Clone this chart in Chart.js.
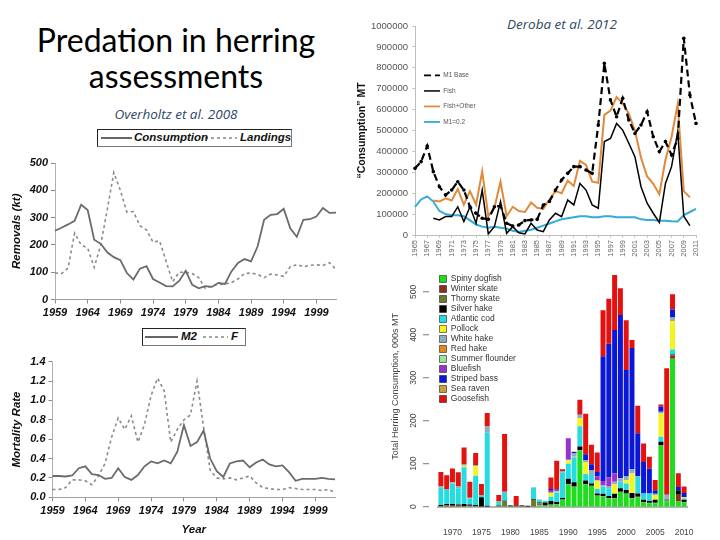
<!DOCTYPE html>
<html><head><meta charset="utf-8">
<script src="https://cdn.jsdelivr.net/npm/chart.js@4/dist/chart.umd.min.js"></script>
<style>
html,body{margin:0;padding:0;background:#fff}
body{width:720px;height:540px;position:relative;overflow:hidden;font-family:"Liberation Sans",Arial,sans-serif}
canvas{position:absolute}
.t{position:absolute;white-space:nowrap}
.lg{position:absolute;border:1px solid #777;border-top-color:#222;border-left-color:#222;box-sizing:border-box;font:italic bold 11.5px "Liberation Sans",Arial,sans-serif;color:#111}
.lg span{position:absolute;top:1px}
</style></head><body>
<div class="t" style="left:0;width:352px;top:22px;text-align:center;font-family:Lato;font-size:32px;line-height:36px;color:#000">Predation in herring<br>assessments</div>
<div class="t" style="left:0;width:352px;top:105px;text-align:center;font-family:'Open Sans';font-style:italic;font-size:13.5px;color:#2e4766">Overholtz et al. 2008</div>
<div class="t" style="left:462px;width:200px;top:15px;text-align:center;font-family:'Open Sans';font-style:italic;font-size:13.5px;color:#2e4766">Deroba et al. 2012</div>

<div class="lg" style="left:97px;top:129px;width:195px;height:18px">
<svg width="195" height="18" style="position:absolute;left:0;top:0"><line x1="3" y1="8" x2="34" y2="8" stroke="#666" stroke-width="2"/><line x1="107" y1="8" x2="139" y2="8" stroke="#888" stroke-width="1.6" stroke-dasharray="3,3"/></svg>
<span style="left:36px">Consumption</span><span style="left:142px">Landings</span>
</div>
<div class="lg" style="left:142px;top:328px;width:104px;height:18px">
<svg width="104" height="18" style="position:absolute;left:0;top:0"><line x1="2" y1="8" x2="35" y2="8" stroke="#666" stroke-width="2"/><line x1="60" y1="8" x2="85" y2="8" stroke="#888" stroke-width="1.6" stroke-dasharray="3,3"/></svg>
<span style="left:38px">M2</span><span style="left:88px">F</span>
</div>

<canvas id="c1" width="345" height="175" style="left:0;top:150px"></canvas>
<canvas id="c2" width="345" height="190" style="left:0;top:350px"></canvas>
<canvas id="c3" width="365" height="252" style="left:355px;top:10px"></canvas>
<canvas id="c4" width="340" height="278" style="left:380px;top:262px"></canvas>

<script>
// ---------- Overholtz et al. 2008 ----------
const overholtzYears = ['1959','1960','1961','1962','1963','1964','1965','1966','1967','1968','1969','1970','1971','1972','1973','1974','1975','1976','1977','1978','1979','1980','1981','1982','1983','1984','1985','1986','1987','1988','1989','1990','1991','1992','1993','1994','1995','1996','1997','1998','1999','2000','2001','2002'];
const consumption = [252,263,275,288,347,328,219,204,173,155,144,97,73,113,122,75,62,49,48,68,105,54,41,49,46,61,57,103,134,148,140,194,292,310,313,332,261,230,292,294,304,335,317,318];
const landings = [97,95,115,243,200,188,118,200,330,465,400,320,322,270,255,210,215,140,65,100,100,95,80,40,50,55,57,62,75,95,97,92,80,93,90,85,120,128,120,125,127,125,135,110];
const m2 = [0.22,0.22,0.215,0.225,0.30,0.32,0.24,0.23,0.19,0.20,0.30,0.21,0.18,0.23,0.32,0.37,0.35,0.38,0.35,0.47,0.745,0.53,0.57,0.69,0.40,0.27,0.21,0.35,0.37,0.38,0.31,0.36,0.39,0.34,0.32,0.33,0.26,0.17,0.19,0.19,0.19,0.20,0.19,0.185];
const fRate = [0.08,0.08,0.10,0.18,0.18,0.17,0.13,0.22,0.35,0.62,0.82,0.70,0.84,0.57,0.75,1.05,1.23,1.10,0.57,0.70,0.80,0.85,1.20,0.72,0.28,0.20,0.19,0.20,0.18,0.20,0.22,0.15,0.10,0.09,0.08,0.08,0.10,0.09,0.08,0.08,0.08,0.07,0.08,0.05];

// ---------- Deroba et al. 2012 ----------
const derobaYears = ['1965','1966','1967','1968','1969','1970','1971','1972','1973','1974','1975','1976','1977','1978','1979','1980','1981','1982','1983','1984','1985','1986','1987','1988','1989','1990','1991','1992','1993','1994','1995','1996','1997','1998','1999','2000','2001','2002','2003','2004','2005','2006','2007','2008','2009','2010','2011'];
const m1Base = [319000,351000,426000,303000,231000,191000,215000,255000,215000,135000,104000,80000,75000,135000,140000,56000,43000,48000,69000,72000,75000,143000,160000,215000,263000,295000,327000,327000,311000,295000,526000,821000,646000,566000,654000,550000,486000,526000,590000,470000,399000,447000,383000,462000,941000,670000,534000];
const fish = [null,null,null,80000,72000,88000,88000,135000,64000,135000,56000,215000,5000,40000,160000,8000,40000,11000,5000,56000,24000,16000,72000,104000,88000,167000,144000,247000,215000,144000,128000,447000,462000,534000,502000,439000,375000,231000,152000,104000,60000,247000,327000,494000,90000,45000,null];
const fishOther = [null,null,null,165000,160000,175000,165000,220000,145000,210000,145000,305000,90000,130000,255000,90000,135000,115000,110000,155000,130000,125000,170000,210000,200000,260000,235000,355000,335000,255000,250000,575000,595000,660000,630000,580000,500000,370000,280000,245000,195000,360000,470000,625000,210000,180000,null];
const m1Fixed = [135000,170000,185000,160000,115000,100000,95000,95000,90000,70000,50000,40000,35000,40000,35000,30000,20000,15000,20000,25000,35000,45000,55000,65000,75000,80000,85000,90000,90000,85000,85000,90000,90000,85000,85000,85000,85000,75000,72000,72000,68000,68000,66000,65000,95000,110000,125000];

// ---------- Stacked consumption by predator (000s MT) ----------
const barYears = ['1968','1969','1970','1971','1972','1973','1974','1975','1976','1977','1978','1979','1980','1981','1982','1983','1984','1985','1986','1987','1988','1989','1990','1991','1992','1993','1994','1995','1996','1997','1998','1999','2000','2001','2002','2003','2004','2005','2006','2007','2008','2009','2010'];
const spinyDogfish   = [0,0,0,0,0,0,0,0,0,0,0,0,0,0,0,0,0,3,2,4,5,16,52,46,131,52,48,25,24,19,19,34,30,19,22,10,8,8,142,12,344,12,10];
const winterSkate    = [0,1,1,1,0,0,0,0,0,0,0,0,0,0,0,0,0,0,0,0,0,0,0,0,0,0,0,0,0,0,0,0,0,0,0,0,0,0,0,0,8,15,0];
const thornySkate    = [1,2,1,1,1,2,1,0,0,0,3,13,1,1,1,0,16,5,1,1,1,1,1,1,1,1,1,1,1,1,1,1,1,1,1,1,1,1,1,3,1,1,1];
const silverHake     = [3,3,4,3,5,3,3,22,2,0,1,1,2,2,2,2,2,2,7,8,5,3,12,10,8,8,5,5,5,5,10,8,8,12,8,5,4,7,8,1,1,10,5];
const atlanticCod    = [40,33,48,38,86,14,68,4,170,0,8,18,1,0,1,0,26,6,4,10,22,60,35,58,47,15,20,10,17,18,0,15,15,0,38,15,18,0,12,0,12,0,3];
const pollock        = [0,0,0,0,3,0,22,0,0,0,0,0,0,0,0,0,0,0,0,9,2,0,8,1,19,27,0,20,0,0,23,0,8,46,0,0,0,11,54,0,66,0,3];
const whiteHake      = [3,2,3,4,3,2,3,0,16,0,0,3,0,0,0,0,1,1,0,2,2,3,1,9,8,5,10,0,3,5,5,8,8,10,2,0,0,3,4,12,8,0,0];
const redHake        = [0,0,0,0,0,0,0,0,0,0,0,0,0,0,0,0,0,0,0,0,0,0,0,0,0,0,0,0,0,0,0,0,0,0,0,0,0,0,0,0,0,0,0];
const summerFlounder = [0,0,0,0,0,0,0,0,0,0,0,0,0,0,0,0,0,0,0,0,0,0,0,0,0,0,0,0,0,0,0,0,0,0,0,0,0,0,0,0,0,0,0];
const bluefish       = [0,0,0,0,0,0,0,0,0,0,0,0,0,0,0,0,0,0,0,5,0,0,50,0,0,0,0,10,10,20,20,0,0,0,0,0,0,0,0,0,0,0,0];
const stripedBass    = [0,0,0,0,0,0,0,0,0,0,0,0,0,0,0,0,0,0,0,2,3,0,0,2,0,14,15,10,290,311,333,380,248,281,100,73,58,8,12,0,19,8,10];
const seaRaven       = [0,0,0,0,0,0,0,0,0,0,0,0,0,0,0,0,0,0,0,0,0,0,0,0,0,0,0,0,0,0,0,0,0,0,0,0,0,0,0,0,0,0,0];
const goosefish      = [34,32,32,33,40,37,28,27,30,0,15,134,0,22,0,0,0,0,0,27,67,4,0,1,35,94,45,45,107,105,128,62,116,19,64,43,27,24,5,294,35,32,15];

const predatorNames  = ['Spiny dogfish','Winter skate','Thorny skate','Silver hake','Atlantic cod','Pollock','White hake','Red hake','Summer flounder','Bluefish','Striped bass','Sea raven','Goosefish'];
const predatorSeries = [spinyDogfish,winterSkate,thornySkate,silverHake,atlanticCod,pollock,whiteHake,redHake,summerFlounder,bluefish,stripedBass,seaRaven,goosefish];
const predatorColors = ['#1fdc1f','#8e2f1c','#6b7b2b','#000000','#25dde0','#f4f41e','#93adbd','#e3891f','#9de39d','#9633cf','#0b17d6','#c9a233','#e3120f'];

// ---------- helpers ----------
Chart.defaults.font.family = '"Liberation Sans", Arial, sans-serif';
Chart.defaults.animation = false;
Chart.defaults.plugins.tooltip.enabled = false;
const biFont = (s) => ({family:'"Liberation Sans", Arial, sans-serif', size:s, weight:'bold', style:'italic'});

function everyN(labels, n, start) {
  return function(v, i) { return ((i - start) % n === 0 && i >= start) ? labels[i] : null; };
}

// ---------- Chart 1 ----------
new Chart(document.getElementById('c1'), {
  type: 'line',
  data: { labels: overholtzYears, datasets: [
    {label:'Consumption', data: consumption, borderColor:'#6b6b6b', borderWidth:1.8, pointRadius:0, tension:0},
    {label:'Landings', data: landings, borderColor:'#8c8c8c', borderWidth:1.6, borderDash:[3,3], pointRadius:0, tension:0}
  ]},
  options: {
    responsive:false,
    layout:{padding:{top:13,right:9,left:0,bottom:0}},
    plugins:{legend:{display:false}},
    scales:{
      x:{ type:'category', offset:false,
        grid:{display:true, drawOnChartArea:false, drawTicks:true, tickLength:4, color:'#8a8a8a'},
        border:{display:true, color:'#a0a0a0'},
        ticks:{autoSkip:false, maxRotation:0, minRotation:0, padding:3, color:'#111', font:biFont(11), callback: everyN(overholtzYears,5,0)},
        afterFit:(s)=>{s.height=25.5;} },
      y:{ min:0, max:500,
        grid:{display:true, drawOnChartArea:false, drawTicks:true, tickLength:4, color:'#8a8a8a'},
        border:{display:true, color:'#b0b0b0'},
        ticks:{stepSize:100, padding:3, color:'#111', font:biFont(11)},
        title:{display:true, text:'Removals (kt)', color:'#111', font:biFont(11.5), padding:{top:10,bottom:0}},
        afterFit:(s)=>{s.width=55;} }
    }
  }
});

// ---------- Chart 2 ----------
new Chart(document.getElementById('c2'), {
  type: 'line',
  data: { labels: overholtzYears, datasets: [
    {label:'M2', data: m2, borderColor:'#6b6b6b', borderWidth:1.8, pointRadius:0, tension:0},
    {label:'F', data: fRate, borderColor:'#8c8c8c', borderWidth:1.6, borderDash:[3,3], pointRadius:0, tension:0}
  ]},
  options: {
    responsive:false,
    layout:{padding:{top:11.7,right:10,left:0,bottom:0}},
    plugins:{legend:{display:false}},
    scales:{
      x:{ type:'category', offset:false,
        grid:{display:true, drawOnChartArea:false, drawTicks:true, tickLength:4, color:'#8a8a8a'},
        border:{display:true, color:'#a0a0a0'},
        ticks:{autoSkip:false, maxRotation:0, minRotation:0, padding:3, color:'#111', font:biFont(11), callback: everyN(overholtzYears,5,0)},
        title:{display:true, text:'Year', color:'#111', font:biFont(11.5), padding:{top:0,bottom:3}},
        afterFit:(s)=>{s.height=42.7;} },
      y:{ min:0, max:1.4,
        grid:{display:true, drawOnChartArea:false, drawTicks:true, tickLength:4, color:'#8a8a8a'},
        border:{display:true, color:'#b0b0b0'},
        ticks:{stepSize:0.2, padding:3, color:'#111', font:biFont(11), callback:(v)=>Number(v).toFixed(1)},
        title:{display:true, text:'Mortality Rate', color:'#111', font:biFont(11.5), padding:{top:10,bottom:0}},
        afterFit:(s)=>{s.width=52.5;} }
    }
  }
});

// ---------- Chart 3 ----------
new Chart(document.getElementById('c3'), {
  type: 'line',
  data: { labels: derobaYears, datasets: [
    {label:'M1 Base', data: m1Base, borderColor:'#000', borderWidth:2.2, borderDash:[7,4], pointRadius:1.8, pointBackgroundColor:'#000', pointBorderColor:'#000', pointBorderWidth:0, tension:0},
    {label:'Fish', data: fish, borderColor:'#000', borderWidth:1.5, pointRadius:0, tension:0},
    {label:'Fish+Other', data: fishOther, borderColor:'#df8a3c', borderWidth:2, pointRadius:0, tension:0},
    {label:'M1=0.2', data: m1Fixed, borderColor:'#33acd6', borderWidth:2, pointRadius:0, tension:0}
  ]},
  options: {
    responsive:false,
    layout:{padding:{top:16,right:24,left:0,bottom:0}},
    plugins:{legend:{display:true, position:'chartArea', align:'start',
      title:{display:true, text:' ', font:{size:1}, padding:{top:52,bottom:0}},
      labels:{usePointStyle:true, pointStyle:'line', pointStyleWidth:16, boxHeight:6, color:'#555', font:{size:6.5}, padding:9,
        generateLabels:(chart)=>Chart.defaults.plugins.legend.labels.generateLabels(chart).map(l=>{
          const ds = chart.data.datasets[l.datasetIndex];
          return Object.assign(l,{strokeStyle:ds.borderColor, lineWidth:Math.min(ds.borderWidth,1.8), lineDash:ds.borderDash||[]});
        })}}},
    scales:{
      x:{ type:'category', offset:false,
        grid:{display:true, drawOnChartArea:false, drawTicks:true, tickLength:3, color:'#c8c8c8'},
        border:{display:true, color:'#bdbdbd'},
        ticks:{autoSkip:false, maxRotation:90, minRotation:90, padding:2, color:'#666', font:{size:7.5}, callback: everyN(derobaYears,2,0)},
        afterFit:(s)=>{s.height=27;} },
      y:{ min:0, max:1000000,
        grid:{display:true, drawOnChartArea:false, drawTicks:true, tickLength:3, color:'#c8c8c8'},
        border:{display:true, color:'#bdbdbd'},
        ticks:{stepSize:100000, padding:4, color:'#555', font:{size:9.5}, callback:(v)=>String(v)},
        title:{display:true, text:'\u201CConsumption\u201D MT', color:'#111', font:{size:10.5, weight:'bold'}, padding:{top:1,bottom:0}},
        afterFit:(s)=>{s.width=60;} }
    }
  }
});

// ---------- Chart 4 ----------
const rotatedYTicks = {
  id:'rotatedYTicks',
  afterDraw(chart) {
    const ys = chart.scales.y, ctx = chart.ctx, left = chart.chartArea.left;
    ctx.save();
    ctx.fillStyle = '#444'; ctx.strokeStyle = '#555'; ctx.lineWidth = 0.8;
    ctx.font = '8.5px "Liberation Sans", Arial, sans-serif';
    ctx.textAlign = 'center'; ctx.textBaseline = 'middle';
    ys.ticks.forEach(t => {
      const y = ys.getPixelForValue(t.value);
      ctx.beginPath(); ctx.moveTo(left - 9, y); ctx.lineTo(left - 15, y); ctx.stroke();
      ctx.save(); ctx.translate(left - 24, y); ctx.rotate(-Math.PI / 2); ctx.fillText(String(t.value), 0, 0); ctx.restore();
    });
    ctx.restore();
  }
};
new Chart(document.getElementById('c4'), {
  type: 'bar',
  data: { labels: barYears, datasets: predatorNames.map((n, k) => ({
    label:n, data:predatorSeries[k], backgroundColor:predatorColors[k], borderWidth:0, stack:'s',
    barPercentage:0.86, categoryPercentage:1
  }))},
  options: {
    responsive:false,
    layout:{padding:{top:4,right:33,left:0,bottom:0}},
    plugins:{legend:{display:true, position:'chartArea', align:'start',
      title:{display:true, text:' ', font:{size:1}, padding:{top:10,bottom:0}},
      labels:{boxWidth:7, boxHeight:7, color:'#333', font:{size:8.5}, padding:1.5,
        generateLabels:(chart)=>Chart.defaults.plugins.legend.labels.generateLabels(chart).map(l=>Object.assign(l,{strokeStyle:'#222', lineWidth:0.6}))}}},
    scales:{
      x:{ type:'category', stacked:true, offset:true,
        grid:{display:false},
        border:{display:true, color:'#b5b5b5', width:2},
        ticks:{autoSkip:false, maxRotation:0, minRotation:0, padding:13, color:'#444', font:{size:8.5}, callback:(v,i)=> (Number(barYears[i]) % 5 === 0 ? barYears[i] : null)},
        afterFit:(s)=>{s.height=33.3;} },
      y:{ stacked:true, min:0, max:560,
        grid:{display:false}, border:{display:false},
        ticks:{display:false, stepSize:100},
        afterBuildTicks:(s)=>{ s.ticks = s.ticks.filter(t => t.value <= 500); },
        title:{display:true, text:'Total Herring Consumption, 000s MT', color:'#444', font:{size:9}, padding:{top:10,bottom:0}},
        afterFit:(s)=>{s.width=58;} }
    }
  },
  plugins:[rotatedYTicks]
});
</script>
</body></html>
